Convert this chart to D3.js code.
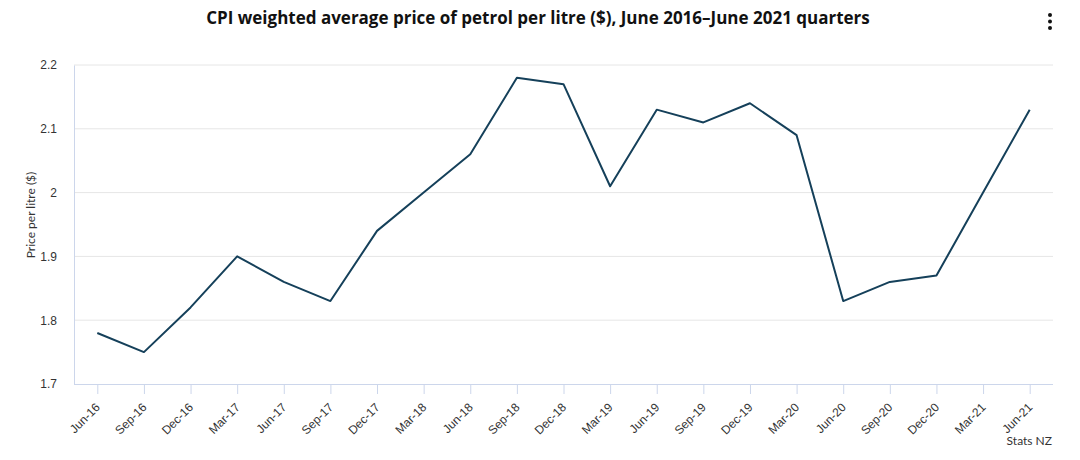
<!DOCTYPE html>
<html>
<head>
<meta charset="utf-8">
<script src="https://cdn.jsdelivr.net/npm/d3@7"></script>
<style>
  html, body { margin: 0; padding: 0; background: #fff; }
  svg { display: block; font-family: "Lato", "Open Sans", sans-serif; }
</style>
</head>
<body>
<svg id="chart" width="1080" height="460"></svg>
<script>
const categories = ["Jun-16","Sep-16","Dec-16","Mar-17","Jun-17","Sep-17","Dec-17","Mar-18","Jun-18","Sep-18","Dec-18","Mar-19","Jun-19","Sep-19","Dec-19","Mar-20","Jun-20","Sep-20","Dec-20","Mar-21","Jun-21"];
const prices = [1.78,1.75,1.82,1.90,1.86,1.83,1.94,2.00,2.06,2.18,2.17,2.01,2.13,2.11,2.14,2.09,1.83,1.86,1.87,2.00,2.13];
const yTicks = [1.7,1.8,1.9,2.0,2.1,2.2];
const titleText = "CPI weighted average price of petrol per litre ($), June 2016\u2013June 2021 quarters";
const yLabel = "Price per litre ($)";
const creditText = "Stats NZ";

const svg = d3.select("#chart");
const m = {left: 74, right: 1053, top: 65, bottom: 384};

const x = d3.scalePoint().domain(categories).range([m.left, m.right]).padding(0.5);
const y = d3.scaleLinear().domain([1.7, 2.2]).range([m.bottom, m.top]);

// gridlines
svg.append("g").selectAll("line").data(yTicks.slice(1)).join("line")
  .attr("x1", m.left).attr("x2", m.right)
  .attr("y1", d => y(d)).attr("y2", d => y(d))
  .attr("stroke", "#e6e6e6").attr("stroke-width", 1);

// y axis
const yAxis = svg.append("g").attr("transform", `translate(${m.left},0)`)
  .call(d3.axisLeft(y).tickValues(yTicks).tickSize(0).tickPadding(17).tickFormat(d3.format("~g")));
yAxis.select(".domain").attr("stroke", "#ccd6eb");
yAxis.selectAll("text").attr("fill", "#333").style("font-size", "12px");

// x axis
const xAxis = svg.append("g").attr("transform", `translate(0,${m.bottom})`)
  .call(d3.axisBottom(x).tickSize(10).tickSizeOuter(0));
xAxis.select(".domain").attr("stroke", "#ccd6eb").attr("d", `M${m.left},0.5H${m.right}`);
xAxis.selectAll(".tick line").attr("stroke", "#ccd6eb");
xAxis.selectAll("text")
  .attr("fill", "#333").style("font-size", "12px")
  .attr("text-anchor", "end")
  .attr("y", 0)
  .attr("dy", "0.35em")
  .attr("transform", "translate(0,21) rotate(-45)");

// line
svg.append("path")
  .datum(prices)
  .attr("fill", "none")
  .attr("stroke", "#15405a")
  .attr("stroke-width", 2)
  .attr("stroke-linejoin", "round")
  .attr("d", d3.line().x((d, i) => x(categories[i])).y(d => y(d)));

// title
svg.append("text").attr("x", 538).attr("y", 24)
  .attr("text-anchor", "middle").attr("font-weight", "bold")
  .style("font-family", "'Open Sans', sans-serif")
  .style("font-size", "17px").attr("fill", "#111").text(titleText);

// y label
svg.append("text")
  .attr("transform", `translate(35,215) rotate(-90)`)
  .attr("text-anchor", "middle").style("font-size", "12px").attr("fill", "#333")
  .text(yLabel);

// credit
svg.append("text").attr("x", 1052).attr("y", 445)
  .attr("text-anchor", "end").style("font-size", "12px").attr("fill", "#333")
  .text(creditText);

// menu dots
svg.append("g").selectAll("circle").data([15, 21.5, 28]).join("circle")
  .attr("cx", 1050).attr("cy", d => d).attr("r", 2).attr("fill", "#111");
</script>
</body>
</html>
